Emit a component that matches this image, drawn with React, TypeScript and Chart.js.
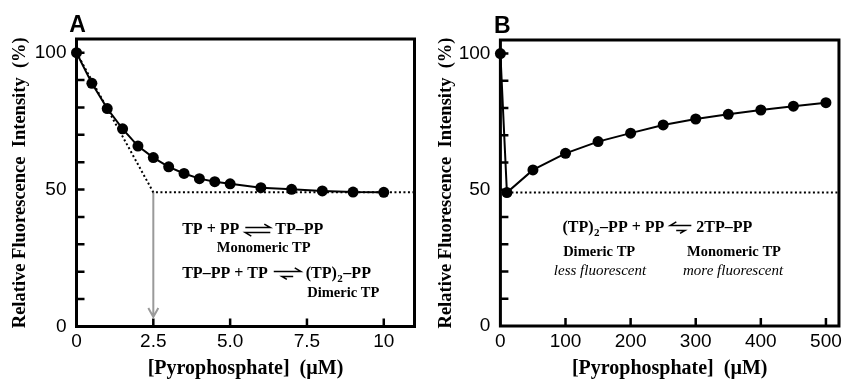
import React, { useEffect, useRef } from "react";
import { Chart, registerables } from "chart.js";
Chart.register(...registerables);

// ---------- Panel A data ----------
const concA = [0, 0.5, 1, 1.5, 2, 2.5, 3, 3.5, 4, 4.5, 5, 6, 7, 8, 9, 10];
const fluorA = [100, 88.8, 79.6, 72.2, 65.9, 61.7, 58.3, 55.9, 54.0, 52.9, 52.1, 50.7, 50.1, 49.5, 49.1, 49.0];
const guideXA = [0, 2.5, 11];
const guideYA = [100, 49, 49];
const arrowXA = 2.5;
const arrowFromA = 49;
const arrowToA = 3.5;
const xTickValuesA = [0, 2.5, 5, 7.5, 10];
const xTickLabelsA = ["0", "2.5", "5.0", "7.5", "10"];
const xMinorA = [2.5, 5, 7.5, 10];
const xMaxA = 11;

// ---------- Panel B data ----------
const concB = [0, 10, 50, 100, 150, 200, 250, 300, 350, 400, 450, 500];
const fluorB = [100, 49.0, 57.3, 63.4, 67.7, 70.8, 73.8, 76.0, 77.7, 79.3, 80.7, 82.0];
const guideXB = [10, 520];
const guideYB = [49, 49];
const xTickValuesB = [0, 100, 200, 300, 400, 500];
const xTickLabelsB = ["0", "100", "200", "300", "400", "500"];
const xMinorB = [100, 200, 300, 400, 500];
const xMaxB = 520;

// ---------- shared axes ----------
const yTickValues = [0, 50, 100];
const yTickLabels = ["0", "50", "100"];
const yMinor = [10, 20, 30, 40, 50, 60, 70, 80, 90, 100];
const yMax = 105;
const xTitle = "[Pyrophosphate]  (\u00B5M)";
const yTitle = "Relative Fluorescence  Intensity  (%)";

const SERIF = '"Liberation Serif", "Times New Roman", serif';
const SANS = '"Liberation Sans", Arial, sans-serif';

type Seg = { t?: string; sub?: string; arrow?: "eq" | "fwd" | "back"; len?: number };
type Ann =
  | { kind: "line"; x: number; y: number; segs: Seg[] }
  | { kind: "text"; x: number; y: number; text: string; italic?: boolean };

const annotationsA: Ann[] = [
  { kind: "line", x: 3.44, y: 35.2, segs: [{ t: "TP + PP" }, { arrow: "eq", len: 25 }, { t: "TP\u2013PP" }] },
  { kind: "text", x: 6.09, y: 28.7, text: "Monomeric TP" },
  {
    kind: "line",
    x: 3.44,
    y: 19.2,
    segs: [{ t: "TP\u2013PP + TP" }, { arrow: "fwd", len: 27 }, { t: "(TP)" }, { sub: "2" }, { t: "\u2013PP" }],
  },
  { kind: "text", x: 8.68, y: 12.0, text: "Dimeric TP" },
];

const annotationsB: Ann[] = [
  {
    kind: "line",
    x: 95.4,
    y: 36.0,
    segs: [{ t: "(TP)" }, { sub: "2" }, { t: "\u2013PP + PP" }, { arrow: "back", len: 21 }, { t: "2TP\u2013PP" }],
  },
  { kind: "text", x: 151.7, y: 27.2, text: "Dimeric TP" },
  { kind: "text", x: 153, y: 20.2, text: "less fluorescent", italic: true },
  { kind: "text", x: 358.8, y: 27.2, text: "Monomeric TP" },
  { kind: "text", x: 357.4, y: 20.2, text: "more fluorescent", italic: true },
];

function drawHarpoon(ctx: CanvasRenderingContext2D, x: number, y: number, len: number, kind: string) {
  ctx.save();
  ctx.strokeStyle = "#000";
  ctx.lineWidth = 1.5;
  ctx.lineCap = "butt";
  const ty = y - 2.5;
  const by = y + 2.5;
  ctx.beginPath();
  if (kind === "eq") {
    ctx.moveTo(x, ty); ctx.lineTo(x + len, ty); ctx.lineTo(x + len - 6, ty - 3.5);
    ctx.moveTo(x + len, by); ctx.lineTo(x, by); ctx.lineTo(x + 6, by + 3.5);
  } else if (kind === "fwd") {
    ctx.moveTo(x, ty); ctx.lineTo(x + len, ty); ctx.lineTo(x + len - 6, ty - 3.5);
    const a = x + len * 0.3, b = x + len * 0.72;
    ctx.moveTo(b, by); ctx.lineTo(a, by); ctx.lineTo(a + 5, by + 3);
  } else {
    ctx.moveTo(x + len, ty); ctx.lineTo(x, ty); ctx.lineTo(x + 6, ty - 3.5);
    const a = x + len * 0.28, b = x + len * 0.7;
    ctx.moveTo(a, by); ctx.lineTo(b, by); ctx.lineTo(b - 5, by + 3);
  }
  ctx.stroke();
  ctx.restore();
}

type Panel = {
  letter: string;
  xs: number[];
  ys: number[];
  gx: number[];
  gy: number[];
  xMax: number;
  xTickValues: number[];
  xTickLabels: string[];
  xMinor: number[];
  ann: Ann[];
  arrow?: { x: number; from: number; to: number };
  padRight: number;
  yAxisWidth: number;
  xAxisHeight: number;
  padTop: number;
  yTitlePad: number;
  letterDx: number;
};

function makeChart(canvas: HTMLCanvasElement, p: Panel) {
  const overlay = {
    id: "overlay" + p.letter,
    beforeDatasetsDraw(chart: any) {
      const { ctx, chartArea: ca, scales } = chart;
      const xs = scales.x, ys = scales.y;
      ctx.save();
      ctx.strokeStyle = "#000";
      ctx.lineWidth = 3;
      ctx.strokeRect(ca.left, ca.top, ca.right - ca.left, ca.bottom - ca.top);
      ctx.lineWidth = 2.5;
      ctx.beginPath();
      for (const v of yMinor) {
        const py = ys.getPixelForValue(v);
        ctx.moveTo(ca.left, py);
        ctx.lineTo(ca.left + 8, py);
      }
      for (const v of p.xMinor) {
        const px = xs.getPixelForValue(v);
        ctx.moveTo(px, ca.bottom);
        ctx.lineTo(px, ca.bottom - 8);
      }
      ctx.stroke();
      if (p.arrow) {
        const ax = xs.getPixelForValue(p.arrow.x);
        const y1 = ys.getPixelForValue(p.arrow.from);
        const y2 = ys.getPixelForValue(p.arrow.to);
        ctx.strokeStyle = "#9a9a9a";
        ctx.lineWidth = 2;
        ctx.beginPath();
        ctx.moveTo(ax, y1);
        ctx.lineTo(ax, y2);
        ctx.moveTo(ax - 5, y2 - 9);
        ctx.lineTo(ax, y2);
        ctx.lineTo(ax + 5, y2 - 9);
        ctx.stroke();
      }
      ctx.restore();
    },
    afterDraw(chart: any) {
      const { ctx, chartArea: ca, scales } = chart;
      const xs = scales.x, ys = scales.y;
      ctx.save();
      ctx.fillStyle = "#000";
      ctx.textBaseline = "middle";
      // panel letter
      ctx.font = `bold 23px ${SANS}`;
      ctx.textAlign = "center";
      ctx.fillText(p.letter, ca.left + p.letterDx, ca.top - 13);
      for (const a of p.ann) {
        const px = xs.getPixelForValue(a.x);
        const py = ys.getPixelForValue(a.y);
        if (a.kind === "text") {
          ctx.font = a.italic ? `italic 15px ${SERIF}` : `bold 14.5px ${SERIF}`;
          ctx.textAlign = "center";
          ctx.fillText(a.text, px, py);
        } else {
          let cx = px;
          ctx.textAlign = "left";
          for (const s of a.segs) {
            if (s.t) {
              ctx.font = `bold 16px ${SERIF}`;
              ctx.fillText(s.t, cx, py);
              cx += ctx.measureText(s.t).width;
            } else if (s.sub) {
              ctx.font = `bold 11px ${SERIF}`;
              ctx.fillText(s.sub, cx + 0.5, py + 5);
              cx += ctx.measureText(s.sub).width + 1;
            } else if (s.arrow) {
              cx += 6;
              drawHarpoon(ctx, cx, py, s.len || 24, s.arrow);
              cx += (s.len || 24) + 5;
            }
          }
        }
      }
      ctx.restore();
    },
  };

  return new Chart(canvas, {
    type: "line",
    data: {
      datasets: [
        {
          data: p.xs.map((x, i) => ({ x, y: p.ys[i] })),
          borderColor: "#000",
          backgroundColor: "#000",
          borderWidth: 2,
          pointRadius: 5.5,
          pointBorderWidth: 0,
          pointBackgroundColor: "#000",
          tension: 0,
          clip: false as any,
        },
        {
          data: p.gx.map((x, i) => ({ x, y: p.gy[i] })),
          borderColor: "#000",
          borderWidth: 2,
          borderDash: [2, 2.5],
          pointRadius: 0,
          tension: 0,
          clip: false as any,
        },
      ],
    },
    options: {
      responsive: false,
      animation: false,
      events: [],
      layout: { padding: { left: 0, right: p.padRight, top: p.padTop, bottom: 0 } },
      plugins: { legend: { display: false }, tooltip: { enabled: false }, title: { display: false } },
      scales: {
        x: {
          type: "linear",
          min: 0,
          max: p.xMax,
          grid: { display: false, drawTicks: false },
          border: { display: false },
          afterBuildTicks: (s: any) => {
            s.ticks = p.xTickValues.map((v) => ({ value: v }));
          },
          afterFit: (s: any) => {
            s.height = p.xAxisHeight;
          },
          ticks: {
            autoSkip: false,
            maxRotation: 0,
            padding: 4,
            color: "#000",
            font: { family: SANS, size: 19 },
            callback: (_v: any, i: number) => p.xTickLabels[i],
          },
          title: {
            display: true,
            text: xTitle,
            color: "#000",
            font: { family: SERIF, size: 20, weight: "bold", lineHeight: 1 },
            padding: { top: 0, bottom: 0 },
          },
        },
        y: {
          type: "linear",
          min: 0,
          max: yMax,
          grid: { display: false, drawTicks: false },
          border: { display: false },
          afterBuildTicks: (s: any) => {
            s.ticks = yTickValues.map((v) => ({ value: v }));
          },
          afterFit: (s: any) => {
            s.width = p.yAxisWidth;
          },
          ticks: {
            autoSkip: false,
            padding: 10,
            color: "#000",
            font: { family: SANS, size: 19 },
            callback: (_v: any, i: number) => yTickLabels[i],
          },
          title: {
            display: true,
            text: yTitle,
            color: "#000",
            font: { family: SERIF, size: 18.5, weight: "bold", lineHeight: 1.2 },
            padding: { top: p.yTitlePad, bottom: 0 },
          },
        },
      },
    },
    plugins: [overlay],
  } as any);
}

const panelA: Panel = {
  letter: "A",
  xs: concA,
  ys: fluorA,
  gx: guideXA,
  gy: guideYA,
  xMax: xMaxA,
  xTickValues: xTickValuesA,
  xTickLabels: xTickLabelsA,
  xMinor: xMinorA,
  ann: annotationsA,
  arrow: { x: arrowXA, from: arrowFromA, to: arrowToA },
  padRight: 3,
  yAxisWidth: 76.5,
  xAxisHeight: 52.5,
  padTop: 39,
  yTitlePad: 9,
  letterDx: 1,
};

const panelB: Panel = {
  letter: "B",
  xs: concB,
  ys: fluorB,
  gx: guideXB,
  gy: guideYB,
  xMax: xMaxB,
  xTickValues: xTickValuesB,
  xTickLabels: xTickLabelsB,
  xMinor: xMinorB,
  ann: annotationsB,
  padRight: 4.3,
  yAxisWidth: 80.4,
  xAxisHeight: 53,
  padTop: 40,
  yTitlePad: 15,
  letterDx: 2,
};

export default function App() {
  const refA = useRef<HTMLCanvasElement>(null);
  const refB = useRef<HTMLCanvasElement>(null);
  useEffect(() => {
    const a = makeChart(refA.current!, panelA);
    const b = makeChart(refB.current!, panelB);
    return () => {
      a.destroy();
      b.destroy();
    };
  }, []);
  return (
    <div style={{ position: "absolute", left: 0, top: 0, width: 846, height: 379, background: "#fff" }}>
      <canvas ref={refA} width={420} height={379} style={{ position: "absolute", left: 0, top: 0, width: 420, height: 379 }} />
      <canvas ref={refB} width={426} height={379} style={{ position: "absolute", left: 420, top: 0, width: 426, height: 379 }} />
    </div>
  );
}
